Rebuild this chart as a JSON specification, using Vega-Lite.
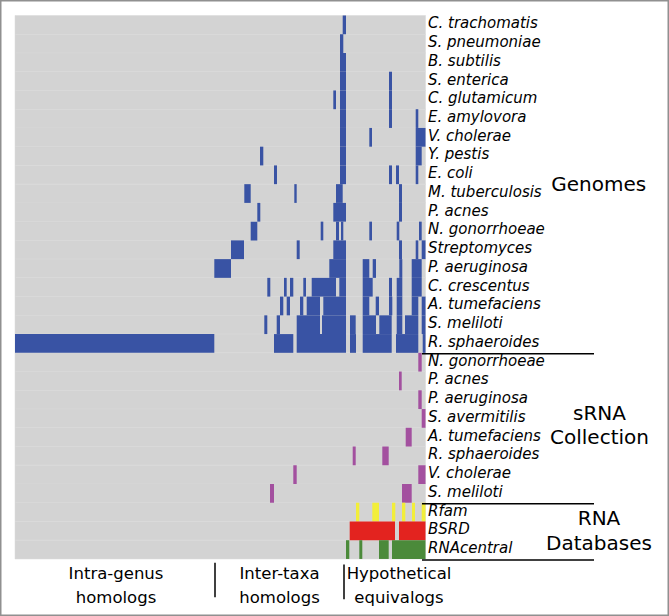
{
  "$schema": "https://vega.github.io/schema/vega-lite/v6.json",
  "width": 669,
  "height": 616,
  "autosize": {"type": "fit", "contains": "padding"},
  "padding": 0,
  "background": "white",
  "config": {"view": {"stroke": "#909090", "strokeWidth": 3}, "font": "DejaVu Sans", "axis": {"disable": true}},
  "datasets": {
    "rows": [
      {"row": 0, "rowEnd": 1, "name": "C. trachomatis"},
      {"row": 1, "rowEnd": 2, "name": "S. pneumoniae"},
      {"row": 2, "rowEnd": 3, "name": "B. subtilis"},
      {"row": 3, "rowEnd": 4, "name": "S. enterica"},
      {"row": 4, "rowEnd": 5, "name": "C. glutamicum"},
      {"row": 5, "rowEnd": 6, "name": "E. amylovora"},
      {"row": 6, "rowEnd": 7, "name": "V. cholerae"},
      {"row": 7, "rowEnd": 8, "name": "Y. pestis"},
      {"row": 8, "rowEnd": 9, "name": "E. coli"},
      {"row": 9, "rowEnd": 10, "name": "M. tuberculosis"},
      {"row": 10, "rowEnd": 11, "name": "P. acnes"},
      {"row": 11, "rowEnd": 12, "name": "N. gonorrhoeae"},
      {"row": 12, "rowEnd": 13, "name": "Streptomyces"},
      {"row": 13, "rowEnd": 14, "name": "P. aeruginosa"},
      {"row": 14, "rowEnd": 15, "name": "C. crescentus"},
      {"row": 15, "rowEnd": 16, "name": "A. tumefaciens"},
      {"row": 16, "rowEnd": 17, "name": "S. meliloti"},
      {"row": 17, "rowEnd": 18, "name": "R. sphaeroides"},
      {"row": 18, "rowEnd": 19, "name": "N. gonorrhoeae"},
      {"row": 19, "rowEnd": 20, "name": "P. acnes"},
      {"row": 20, "rowEnd": 21, "name": "P. aeruginosa"},
      {"row": 21, "rowEnd": 22, "name": "S. avermitilis"},
      {"row": 22, "rowEnd": 23, "name": "A. tumefaciens"},
      {"row": 23, "rowEnd": 24, "name": "R. sphaeroides"},
      {"row": 24, "rowEnd": 25, "name": "V. cholerae"},
      {"row": 25, "rowEnd": 26, "name": "S. meliloti"},
      {"row": 26, "rowEnd": 27, "name": "Rfam"},
      {"row": 27, "rowEnd": 28, "name": "BSRD"},
      {"row": 28, "rowEnd": 29, "name": "RNAcentral"}
    ],
    "cells": [
      {"row": 0, "rowEnd": 1, "from": 327.7, "to": 331, "set": "Genomes"},
      {"row": 1, "rowEnd": 2, "from": 325, "to": 328.3, "set": "Genomes"},
      {"row": 2, "rowEnd": 3, "from": 325, "to": 331, "set": "Genomes"},
      {"row": 3, "rowEnd": 4, "from": 325, "to": 331, "set": "Genomes"},
      {"row": 3, "rowEnd": 4, "from": 374, "to": 377, "set": "Genomes"},
      {"row": 4, "rowEnd": 5, "from": 318.3, "to": 321, "set": "Genomes"},
      {"row": 4, "rowEnd": 5, "from": 325, "to": 331, "set": "Genomes"},
      {"row": 4, "rowEnd": 5, "from": 374, "to": 377, "set": "Genomes"},
      {"row": 5, "rowEnd": 6, "from": 325, "to": 331, "set": "Genomes"},
      {"row": 5, "rowEnd": 6, "from": 374, "to": 377, "set": "Genomes"},
      {"row": 5, "rowEnd": 6, "from": 400.7, "to": 403.3, "set": "Genomes"},
      {"row": 6, "rowEnd": 7, "from": 325, "to": 331, "set": "Genomes"},
      {"row": 6, "rowEnd": 7, "from": 354.3, "to": 357, "set": "Genomes"},
      {"row": 6, "rowEnd": 7, "from": 400.7, "to": 410.5, "set": "Genomes"},
      {"row": 7, "rowEnd": 8, "from": 245, "to": 248.3, "set": "Genomes"},
      {"row": 7, "rowEnd": 8, "from": 325, "to": 331, "set": "Genomes"},
      {"row": 7, "rowEnd": 8, "from": 400.7, "to": 406.7, "set": "Genomes"},
      {"row": 8, "rowEnd": 9, "from": 259, "to": 262, "set": "Genomes"},
      {"row": 8, "rowEnd": 9, "from": 325, "to": 331, "set": "Genomes"},
      {"row": 8, "rowEnd": 9, "from": 374, "to": 377, "set": "Genomes"},
      {"row": 8, "rowEnd": 9, "from": 381, "to": 384, "set": "Genomes"},
      {"row": 8, "rowEnd": 9, "from": 400.7, "to": 403.3, "set": "Genomes"},
      {"row": 9, "rowEnd": 10, "from": 229.3, "to": 235.7, "set": "Genomes"},
      {"row": 9, "rowEnd": 10, "from": 279.3, "to": 281.7, "set": "Genomes"},
      {"row": 9, "rowEnd": 10, "from": 321, "to": 327.7, "set": "Genomes"},
      {"row": 9, "rowEnd": 10, "from": 384, "to": 387, "set": "Genomes"},
      {"row": 10, "rowEnd": 11, "from": 242.3, "to": 245.3, "set": "Genomes"},
      {"row": 10, "rowEnd": 11, "from": 318.3, "to": 331, "set": "Genomes"},
      {"row": 10, "rowEnd": 11, "from": 384, "to": 387, "set": "Genomes"},
      {"row": 11, "rowEnd": 12, "from": 235.7, "to": 242.3, "set": "Genomes"},
      {"row": 11, "rowEnd": 12, "from": 305.7, "to": 308.3, "set": "Genomes"},
      {"row": 11, "rowEnd": 12, "from": 321, "to": 324, "set": "Genomes"},
      {"row": 11, "rowEnd": 12, "from": 326, "to": 328.3, "set": "Genomes"},
      {"row": 11, "rowEnd": 12, "from": 354.3, "to": 357, "set": "Genomes"},
      {"row": 11, "rowEnd": 12, "from": 381.7, "to": 384.3, "set": "Genomes"},
      {"row": 11, "rowEnd": 12, "from": 404, "to": 406.7, "set": "Genomes"},
      {"row": 12, "rowEnd": 13, "from": 216, "to": 229, "set": "Genomes"},
      {"row": 12, "rowEnd": 13, "from": 281.7, "to": 284.7, "set": "Genomes"},
      {"row": 12, "rowEnd": 13, "from": 318.3, "to": 331, "set": "Genomes"},
      {"row": 12, "rowEnd": 13, "from": 384, "to": 387, "set": "Genomes"},
      {"row": 12, "rowEnd": 13, "from": 400.7, "to": 403.3, "set": "Genomes"},
      {"row": 12, "rowEnd": 13, "from": 406.7, "to": 410.5, "set": "Genomes"},
      {"row": 13, "rowEnd": 14, "from": 199.3, "to": 216, "set": "Genomes"},
      {"row": 13, "rowEnd": 14, "from": 314.3, "to": 331, "set": "Genomes"},
      {"row": 13, "rowEnd": 14, "from": 347.7, "to": 354.3, "set": "Genomes"},
      {"row": 13, "rowEnd": 14, "from": 357.7, "to": 361, "set": "Genomes"},
      {"row": 13, "rowEnd": 14, "from": 384.3, "to": 387.3, "set": "Genomes"},
      {"row": 13, "rowEnd": 14, "from": 396.7, "to": 406.7, "set": "Genomes"},
      {"row": 14, "rowEnd": 15, "from": 252.3, "to": 255.3, "set": "Genomes"},
      {"row": 14, "rowEnd": 15, "from": 269, "to": 271.7, "set": "Genomes"},
      {"row": 14, "rowEnd": 15, "from": 275, "to": 278.3, "set": "Genomes"},
      {"row": 14, "rowEnd": 15, "from": 288.3, "to": 291, "set": "Genomes"},
      {"row": 14, "rowEnd": 15, "from": 296.7, "to": 321, "set": "Genomes"},
      {"row": 14, "rowEnd": 15, "from": 324.3, "to": 331, "set": "Genomes"},
      {"row": 14, "rowEnd": 15, "from": 347.7, "to": 357.7, "set": "Genomes"},
      {"row": 14, "rowEnd": 15, "from": 374, "to": 377, "set": "Genomes"},
      {"row": 14, "rowEnd": 15, "from": 381.7, "to": 387.3, "set": "Genomes"},
      {"row": 14, "rowEnd": 15, "from": 396.7, "to": 406.7, "set": "Genomes"},
      {"row": 15, "rowEnd": 16, "from": 265, "to": 268.3, "set": "Genomes"},
      {"row": 15, "rowEnd": 16, "from": 271.7, "to": 275, "set": "Genomes"},
      {"row": 15, "rowEnd": 16, "from": 285, "to": 288.3, "set": "Genomes"},
      {"row": 15, "rowEnd": 16, "from": 291.7, "to": 305, "set": "Genomes"},
      {"row": 15, "rowEnd": 16, "from": 308.3, "to": 331, "set": "Genomes"},
      {"row": 15, "rowEnd": 16, "from": 347.7, "to": 354.3, "set": "Genomes"},
      {"row": 15, "rowEnd": 16, "from": 360.7, "to": 364, "set": "Genomes"},
      {"row": 15, "rowEnd": 16, "from": 374, "to": 377.3, "set": "Genomes"},
      {"row": 15, "rowEnd": 16, "from": 381.7, "to": 387.3, "set": "Genomes"},
      {"row": 15, "rowEnd": 16, "from": 396.7, "to": 403.3, "set": "Genomes"},
      {"row": 15, "rowEnd": 16, "from": 406.7, "to": 410.5, "set": "Genomes"},
      {"row": 16, "rowEnd": 17, "from": 249.3, "to": 252.3, "set": "Genomes"},
      {"row": 16, "rowEnd": 17, "from": 261.7, "to": 265, "set": "Genomes"},
      {"row": 16, "rowEnd": 17, "from": 281.7, "to": 305, "set": "Genomes"},
      {"row": 16, "rowEnd": 17, "from": 307, "to": 331, "set": "Genomes"},
      {"row": 16, "rowEnd": 17, "from": 335, "to": 340.7, "set": "Genomes"},
      {"row": 16, "rowEnd": 17, "from": 347.7, "to": 361, "set": "Genomes"},
      {"row": 16, "rowEnd": 17, "from": 364.3, "to": 376.7, "set": "Genomes"},
      {"row": 16, "rowEnd": 17, "from": 381.7, "to": 387.3, "set": "Genomes"},
      {"row": 16, "rowEnd": 17, "from": 390, "to": 403.3, "set": "Genomes"},
      {"row": 16, "rowEnd": 17, "from": 406.7, "to": 410.5, "set": "Genomes"},
      {"row": 17, "rowEnd": 18, "from": 0, "to": 199.3, "set": "Genomes"},
      {"row": 17, "rowEnd": 18, "from": 259, "to": 278.3, "set": "Genomes"},
      {"row": 17, "rowEnd": 18, "from": 281.7, "to": 331, "set": "Genomes"},
      {"row": 17, "rowEnd": 18, "from": 335, "to": 341, "set": "Genomes"},
      {"row": 17, "rowEnd": 18, "from": 347.7, "to": 376.7, "set": "Genomes"},
      {"row": 17, "rowEnd": 18, "from": 381, "to": 403.3, "set": "Genomes"},
      {"row": 17, "rowEnd": 18, "from": 407.7, "to": 410.5, "set": "Genomes"},
      {"row": 18, "rowEnd": 19, "from": 403.3, "to": 406.7, "set": "sRNA"},
      {"row": 19, "rowEnd": 20, "from": 384, "to": 386.7, "set": "sRNA"},
      {"row": 20, "rowEnd": 21, "from": 403.3, "to": 406.7, "set": "sRNA"},
      {"row": 21, "rowEnd": 22, "from": 406.7, "to": 410.5, "set": "sRNA"},
      {"row": 22, "rowEnd": 23, "from": 390.7, "to": 396.7, "set": "sRNA"},
      {"row": 23, "rowEnd": 24, "from": 337.7, "to": 340.7, "set": "sRNA"},
      {"row": 23, "rowEnd": 24, "from": 367.3, "to": 373.7, "set": "sRNA"},
      {"row": 24, "rowEnd": 25, "from": 278.3, "to": 281.7, "set": "sRNA"},
      {"row": 24, "rowEnd": 25, "from": 403.3, "to": 410.5, "set": "sRNA"},
      {"row": 25, "rowEnd": 26, "from": 255, "to": 259, "set": "sRNA"},
      {"row": 25, "rowEnd": 26, "from": 387, "to": 396.7, "set": "sRNA"},
      {"row": 26, "rowEnd": 27, "from": 341, "to": 344.3, "set": "Rfam"},
      {"row": 26, "rowEnd": 27, "from": 357.3, "to": 364, "set": "Rfam"},
      {"row": 26, "rowEnd": 27, "from": 377, "to": 380.3, "set": "Rfam"},
      {"row": 26, "rowEnd": 27, "from": 387, "to": 390.3, "set": "Rfam"},
      {"row": 26, "rowEnd": 27, "from": 397, "to": 400, "set": "Rfam"},
      {"row": 26, "rowEnd": 27, "from": 406.7, "to": 410.5, "set": "Rfam"},
      {"row": 27, "rowEnd": 28, "from": 334.7, "to": 380, "set": "BSRD"},
      {"row": 27, "rowEnd": 28, "from": 384, "to": 410.5, "set": "BSRD"},
      {"row": 28, "rowEnd": 29, "from": 331, "to": 334.3, "set": "RNAcentral"},
      {"row": 28, "rowEnd": 29, "from": 344.3, "to": 347.3, "set": "RNAcentral"},
      {"row": 28, "rowEnd": 29, "from": 364, "to": 373.7, "set": "RNAcentral"},
      {"row": 28, "rowEnd": 29, "from": 377, "to": 410.5, "set": "RNAcentral"}
    ]
  },
  "layer": [
    {
      "data": {"name": "rows"},
      "mark": {"type": "rect", "fill": "#d3d3d3", "stroke": "#d9d9d9", "strokeWidth": 0.5},
      "encoding": {
        "x": {"datum": 0, "type": "quantitative", "scale": {"domain": [-15, 654], "nice": false, "zero": false}, "axis": null},
        "x2": {"datum": 410.5},
        "y": {"field": "row", "type": "quantitative", "scale": {"domain": [-0.827, 32.044], "nice": false, "zero": false, "reverse": true}, "axis": null},
        "y2": {"field": "rowEnd"}
      }
    },
    {
      "data": {"name": "cells"},
      "mark": {"type": "rect"},
      "encoding": {
        "x": {"field": "from", "type": "quantitative", "scale": {"domain": [-15, 654], "nice": false, "zero": false}, "axis": null},
        "x2": {"field": "to"},
        "y": {"field": "row", "type": "quantitative", "scale": {"domain": [-0.827, 32.044], "nice": false, "zero": false, "reverse": true}, "axis": null},
        "y2": {"field": "rowEnd"},
        "color": {"field": "set", "type": "nominal", "legend": null, "scale": {"domain": ["Genomes", "sRNA", "Rfam", "BSRD", "RNAcentral"], "range": ["#3953a4", "#a3509f", "#f2ee3a", "#e3231f", "#4b8a3a"]}}
      }
    },
    {
      "data": {"name": "rows"},
      "mark": {"type": "text", "align": "left", "baseline": "alphabetic", "dy": 12.8, "fontSize": 15, "fontStyle": "italic", "font": "DejaVu Sans", "color": "#000000"},
      "encoding": {
        "x": {"datum": 413, "type": "quantitative", "scale": {"domain": [-15, 654], "nice": false, "zero": false}},
        "y": {"field": "row", "type": "quantitative", "scale": {"domain": [-0.827, 32.044], "nice": false, "zero": false, "reverse": true}},
        "text": {"field": "name"}
      }
    },
    {
      "data": {"values": [{}]},
      "mark": {"type": "rule", "color": "#000000", "strokeWidth": 1.5},
      "encoding": {"x": {"datum": 407}, "x2": {"datum": 579}, "y": {"datum": 18.05}}
    },
    {
      "data": {"values": [{}]},
      "mark": {"type": "rule", "color": "#000000", "strokeWidth": 1.5},
      "encoding": {"x": {"datum": 407}, "x2": {"datum": 579}, "y": {"datum": 26.05}}
    },
    {
      "data": {"values": [{}]},
      "mark": {"type": "rule", "color": "#000000", "strokeWidth": 1.5},
      "encoding": {"x": {"datum": 407}, "x2": {"datum": 579}, "y": {"datum": 29.05}}
    },
    {
      "data": {"values": [{}]},
      "mark": {"type": "rule", "color": "#000000", "strokeWidth": 1.5},
      "encoding": {"x": {"datum": 200}, "y": {"datum": 29.2}, "y2": {"datum": 31.05}}
    },
    {
      "data": {"values": [{}]},
      "mark": {"type": "rule", "color": "#000000", "strokeWidth": 1.5},
      "encoding": {"x": {"datum": 329}, "y": {"datum": 29.3}, "y2": {"datum": 31.15}}
    },
    {
      "data": {"values": [{}]},
      "mark": {"type": "text", "text": "Genomes", "align": "center", "baseline": "alphabetic", "fontSize": 20, "color": "#000000"},
      "encoding": {"x": {"datum": 583.7}, "y": {"datum": 9.349}}
    },
    {
      "data": {"values": [{}]},
      "mark": {"type": "text", "text": ["sRNA", "Collection"], "align": "center", "baseline": "alphabetic", "fontSize": 20, "lineHeight": 24.5, "color": "#000000"},
      "encoding": {"x": {"datum": 584.5}, "y": {"datum": 21.57}}
    },
    {
      "data": {"values": [{}]},
      "mark": {"type": "text", "text": ["RNA", "Databases"], "align": "center", "baseline": "alphabetic", "fontSize": 20, "lineHeight": 24.5, "color": "#000000"},
      "encoding": {"x": {"datum": 584}, "y": {"datum": 27.2}}
    },
    {
      "data": {"values": [{}]},
      "mark": {"type": "text", "text": ["Intra-genus", "homologs"], "align": "center", "baseline": "alphabetic", "fontSize": 16.5, "lineHeight": 24, "color": "#000000"},
      "encoding": {"x": {"datum": 101}, "y": {"datum": 30.07}}
    },
    {
      "data": {"values": [{}]},
      "mark": {"type": "text", "text": ["Inter-taxa", "homologs"], "align": "center", "baseline": "alphabetic", "fontSize": 16.5, "lineHeight": 24, "color": "#000000"},
      "encoding": {"x": {"datum": 264.5}, "y": {"datum": 30.07}}
    },
    {
      "data": {"values": [{}]},
      "mark": {"type": "text", "text": ["Hypothetical", "equivalogs"], "align": "center", "baseline": "alphabetic", "fontSize": 16.5, "lineHeight": 24, "color": "#000000"},
      "encoding": {"x": {"datum": 384}, "y": {"datum": 30.07}}
    }
  ]
}
